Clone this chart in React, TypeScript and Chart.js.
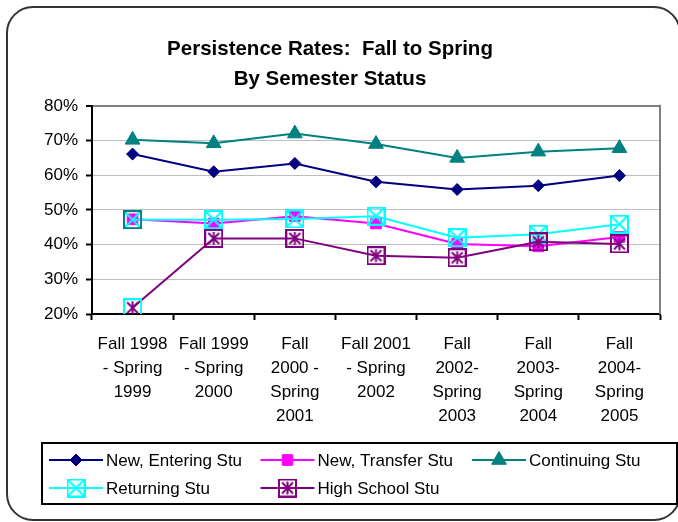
import React, { useEffect, useRef } from 'react';
import { Chart, registerables } from 'chart.js';

Chart.register(...registerables);

const titleLines = ['Persistence Rates:  Fall to Spring', 'By Semester Status'];

const categories: string[][] = [
  ['Fall 1998', '- Spring', '1999'],
  ['Fall 1999', '- Spring', '2000'],
  ['Fall', '2000 -', 'Spring', '2001'],
  ['Fall 2001', '- Spring', '2002'],
  ['Fall', '2002-', 'Spring', '2003'],
  ['Fall', '2003-', 'Spring', '2004'],
  ['Fall', '2004-', 'Spring', '2005'],
];

const seriesNames = ['New, Entering Stu', 'New, Transfer Stu', 'Continuing Stu', 'Returning Stu', 'High School Stu'];

const newEntering = [66.1, 61.0, 63.4, 58.1, 55.9, 57.0, 59.9];
const newTransfer = [47.3, 46.1, 48.2, 46.1, 40.2, 39.5, 42.2];
const continuing = [70.2, 69.2, 72.0, 69.0, 65.0, 66.8, 67.8];
const returning = [47.2, 47.2, 47.4, 48.2, 42.0, 43.0, 45.9];
const highSchool = [21.8, 41.8, 41.8, 36.8, 36.2, 40.8, 40.2];

const yMin = 20;
const yMax = 80;
const yStep = 10;

const NAVY = '#000080';
const MAGENTA = '#FF00FF';
const TEAL = '#008080';
const CYAN = '#00FFFF';
const PURPLE = '#800080';

const FONT = '"Liberation Sans", Arial, Helvetica, sans-serif';

function makeBox(border: string, cross: string, star: boolean): HTMLCanvasElement {
  const c = document.createElement('canvas');
  c.width = 19;
  c.height = 19;
  const g = c.getContext('2d')!;
  g.lineWidth = 2;
  g.strokeStyle = cross;
  g.beginPath();
  if (star) {
    g.moveTo(4, 4); g.lineTo(15, 15);
    g.moveTo(15, 4); g.lineTo(4, 15);
    g.moveTo(9.5, 3); g.lineTo(9.5, 16);
  } else {
    g.moveTo(2, 2); g.lineTo(17, 17);
    g.moveTo(17, 2); g.lineTo(2, 17);
  }
  g.stroke();
  g.strokeStyle = border;
  g.strokeRect(1, 1, 17, 17);
  return c;
}

function drawMarker(ctx: CanvasRenderingContext2D, style: any, r: number, x: number, y: number, color: string) {
  if (typeof style !== 'string') {
    ctx.drawImage(style, x - style.width / 2, y - style.height / 2);
    return;
  }
  ctx.fillStyle = color;
  ctx.strokeStyle = color;
  ctx.lineWidth = 1;
  ctx.beginPath();
  if (style === 'rectRot') {
    ctx.moveTo(x - r, y); ctx.lineTo(x, y - r); ctx.lineTo(x + r, y); ctx.lineTo(x, y + r);
  } else if (style === 'rect') {
    const s = Math.SQRT1_2 * r;
    ctx.rect(x - s, y - s, 2 * s, 2 * s);
  } else if (style === 'triangle') {
    ctx.moveTo(x, y - r);
    ctx.lineTo(x + Math.sin(2 * Math.PI / 3) * r, y - Math.cos(2 * Math.PI / 3) * r);
    ctx.lineTo(x + Math.sin(4 * Math.PI / 3) * r, y - Math.cos(4 * Math.PI / 3) * r);
  }
  ctx.closePath();
  ctx.fill();
  ctx.stroke();
}

export default function App() {
  const ref = useRef<HTMLCanvasElement | null>(null);

  useEffect(() => {
    const canvas = ref.current!;
    const retNormal = makeBox(CYAN, CYAN, false);
    const retFirst = makeBox(TEAL, CYAN, false);
    const hsNormal = makeBox(PURPLE, PURPLE, true);
    const hsFirst = makeBox(CYAN, PURPLE, true);

    const retStyles = returning.map((_, i) => (i === 0 ? retFirst : retNormal));
    const hsStyles = highSchool.map((_, i) => (i === 0 ? hsFirst : hsNormal));

    const legendMarkers: any[] = [
      { style: 'rectRot', r: 6 },
      { style: 'rect', r: 7.5 },
      { style: 'triangle', r: 8.5 },
      { style: retNormal, r: 0 },
      { style: hsNormal, r: 0 },
    ];
    const colors = [NAVY, MAGENTA, TEAL, CYAN, PURPLE];

    const decor = {
      id: 'decor',
      beforeDraw(chart: any) {
        const c = chart.ctx;
        c.save();
        c.fillStyle = '#ffffff';
        c.fillRect(0, 0, chart.width, chart.height);
        c.restore();
      },
      afterDraw(chart: any) {
        const c: CanvasRenderingContext2D = chart.ctx;
        const a = chart.chartArea;
        c.save();
        // plot area right border
        c.strokeStyle = '#808080';
        c.lineWidth = 2;
        c.beginPath();
        c.moveTo(a.right, a.top - 1);
        c.lineTo(a.right, a.bottom);
        c.stroke();

        // outer rounded frame
        c.strokeStyle = '#333333';
        c.lineWidth = 2;
        c.beginPath();
        (c as any).roundRect(7, 7, 673, 513, 26);
        c.stroke();

        // legend box
        c.strokeStyle = '#000000';
        c.lineWidth = 2;
        c.strokeRect(42, 443, 635, 61);

        c.font = '17px ' + FONT;
        c.textBaseline = 'middle';
        c.textAlign = 'left';
        chart.data.datasets.forEach((ds: any, i: number) => {
          const col = i % 3;
          const row = Math.floor(i / 3);
          const x0 = 49 + col * 211.5;
          const y = 460 + row * 28;
          c.strokeStyle = colors[i];
          c.lineWidth = 2;
          c.beginPath();
          c.moveTo(x0, y);
          c.lineTo(x0 + 54, y);
          c.stroke();
          drawMarker(c, legendMarkers[i].style, legendMarkers[i].r, x0 + 27, y, colors[i]);
          c.fillStyle = '#000000';
          c.fillText(ds.label, x0 + 57, y + 1);
        });
        c.restore();
      },
    };

    const chart = new Chart(canvas, {
      type: 'line',
      data: {
        labels: categories,
        datasets: [
          {
            label: seriesNames[0], data: newEntering, order: 4,
            borderColor: NAVY, backgroundColor: NAVY, borderWidth: 2,
            pointStyle: 'rectRot', pointRadius: 6, pointBorderWidth: 1,
            pointBackgroundColor: NAVY, pointBorderColor: NAVY,
          },
          {
            label: seriesNames[1], data: newTransfer, order: 3,
            borderColor: MAGENTA, backgroundColor: MAGENTA, borderWidth: 2,
            pointStyle: 'rect', pointRadius: 7.5, pointBorderWidth: 1,
            pointBackgroundColor: MAGENTA, pointBorderColor: MAGENTA,
          },
          {
            label: seriesNames[2], data: continuing, order: 2,
            borderColor: TEAL, backgroundColor: TEAL, borderWidth: 2,
            pointStyle: 'triangle', pointRadius: 8.5, pointBorderWidth: 1,
            pointBackgroundColor: TEAL, pointBorderColor: TEAL,
          },
          {
            label: seriesNames[3], data: returning, order: 1,
            borderColor: CYAN, backgroundColor: CYAN, borderWidth: 2,
            pointStyle: retStyles as any, pointRadius: 9,
          },
          {
            label: seriesNames[4], data: highSchool, order: 0,
            borderColor: PURPLE, backgroundColor: PURPLE, borderWidth: 2,
            pointStyle: hsStyles as any, pointRadius: 9,
          },
        ],
      },
      options: {
        animation: false,
        responsive: false,
        devicePixelRatio: 1,
        events: [],
        layout: { padding: { left: 0, right: 18, top: 0, bottom: 88 } },
        plugins: {
          legend: { display: false },
          tooltip: { enabled: false },
          title: {
            display: true,
            text: titleLines,
            color: '#000000',
            font: { family: FONT, size: 20.5, weight: 'bold', lineHeight: 1.46 },
            padding: { top: 34, bottom: 12 },
          },
        },
        scales: {
          x: {
            type: 'category',
            offset: true,
            grid: {
              offset: true,
              drawOnChartArea: false,
              drawTicks: true,
              tickLength: 6,
              tickColor: '#000000',
              tickWidth: 2,
              color: '#000000',
            },
            border: { display: true, color: '#000000', width: 2 },
            ticks: {
              autoSkip: false,
              maxRotation: 0,
              minRotation: 0,
              padding: 12,
              color: '#000000',
              font: { family: FONT, size: 17, lineHeight: 1.42 },
            },
            afterFit(scale: any) { scale.height = 120; },
          },
          y: {
            min: yMin,
            max: yMax,
            grid: {
              color: (ctx: any) => (ctx.tick && ctx.tick.value === yMax ? '#808080' : '#bdbdbd'),
              lineWidth: (ctx: any) => (ctx.tick && ctx.tick.value === yMax ? 2 : 1),
              tickColor: '#000000',
              tickLength: 6,
              tickWidth: 2,
              drawTicks: true,
            },
            border: { display: true, color: '#000000', width: 2 },
            ticks: {
              stepSize: yStep,
              padding: 8,
              color: '#000000',
              font: { family: FONT, size: 17 },
              callback: (v: any) => v + '%',
            },
            afterFit(scale: any) { scale.width = 92; },
          },
        },
      },
      plugins: [decor],
    } as any);

    return () => chart.destroy();
  }, []);

  return (
    <div style={{ position: 'absolute', left: 0, top: 0, width: 678, height: 522 }}>
      <canvas ref={ref} width={678} height={522} style={{ width: 678, height: 522, display: 'block' }} />
    </div>
  );
}
